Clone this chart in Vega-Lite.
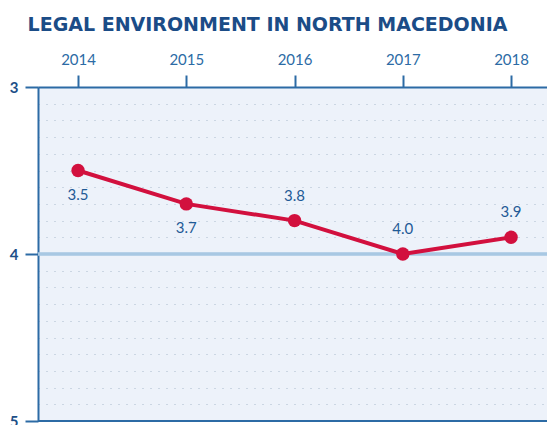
{
  "$schema": "https://vega.github.io/schema/vega-lite/v6.json",
  "width": 509,
  "height": 334,
  "autosize": {"type": "none"},
  "padding": {"left": 38, "top": 87, "right": 0, "bottom": 4},
  "background": "white",
  "title": {
    "text": "LEGAL ENVIRONMENT IN NORTH MACEDONIA",
    "font": "DejaVu Sans",
    "fontWeight": "bold",
    "fontSize": 19,
    "color": "#1b4c87",
    "anchor": "middle",
    "frame": "group",
    "dx": -25,
    "offset": 17
  },
  "config": {
    "view": {"fill": "#edf2fa", "stroke": null},
    "axis": {
      "domainColor": "#2c6ba5",
      "domainWidth": 2,
      "tickColor": "#2c6ba5",
      "tickWidth": 2,
      "labelFont": "Lato",
      "labelColor": "#2c6ba5",
      "title": null
    }
  },
  "data": {
    "values": [
      {"year": 2014, "score": 3.5},
      {"year": 2015, "score": 3.7},
      {"year": 2016, "score": 3.8},
      {"year": 2017, "score": 4.0},
      {"year": 2018, "score": 3.9}
    ]
  },
  "encoding": {
    "x": {
      "field": "year",
      "type": "quantitative",
      "scale": {"domain": [2013.63, 2018.332], "nice": false, "zero": false},
      "axis": {
        "orient": "top",
        "values": [2014, 2015, 2016, 2017, 2018],
        "format": "d",
        "tickSize": 12,
        "labelPadding": 8,
        "labelFontSize": 15,
        "grid": false
      }
    },
    "y": {
      "field": "score",
      "type": "quantitative",
      "scale": {"domain": [3, 5], "reverse": true, "nice": false, "zero": false},
      "axis": {
        "orient": "left",
        "values": [3, 3.1, 3.2, 3.3, 3.4, 3.5, 3.6, 3.7, 3.8, 3.9, 4, 4.1, 4.2, 4.3, 4.4, 4.5, 4.6, 4.7, 4.8, 4.9, 5],
        "labelExpr": "datum.value % 1 == 0 ? format(datum.value, 'd') : ''",
        "tickOpacity": {"condition": {"test": "datum.value % 1 == 0", "value": 1}, "value": 0},
        "tickSize": 13,
        "labelPadding": 7,
        "labelFontSize": 15,
        "labelFontWeight": "bold",
        "labelColor": "#1d4f88",
        "grid": true,
        "gridDash": [1, 7],
        "gridColor": "#a9b9cc",
        "gridWidth": 1.2
      }
    }
  },
  "layer": [
    {
      "mark": {"type": "rule", "color": "#a8c8e3", "strokeWidth": 2.5},
      "encoding": {"y": {"datum": 4}, "x": {"value": 0}, "x2": {"value": 509}}
    },
    {
      "mark": {"type": "rule", "color": "#2c6ba5", "strokeWidth": 2},
      "encoding": {"y": {"datum": 5}, "x": {"value": 0}, "x2": {"value": 509}}
    },
    {
      "mark": {"type": "line", "color": "#d2103e", "strokeWidth": 4}
    },
    {
      "mark": {"type": "point", "filled": true, "opacity": 1, "color": "#d2103e", "size": 180}
    },
    {
      "transform": [{"filter": "datum.year <= 2015"}],
      "mark": {"type": "text", "dy": 24, "font": "Lato", "fontSize": 15, "color": "#1f5a96"},
      "encoding": {"text": {"field": "score", "type": "quantitative", "format": ".1f"}}
    },
    {
      "transform": [{"filter": "datum.year > 2015"}],
      "mark": {"type": "text", "dy": -25, "font": "Lato", "fontSize": 15, "color": "#1f5a96"},
      "encoding": {"text": {"field": "score", "type": "quantitative", "format": ".1f"}}
    }
  ]
}
